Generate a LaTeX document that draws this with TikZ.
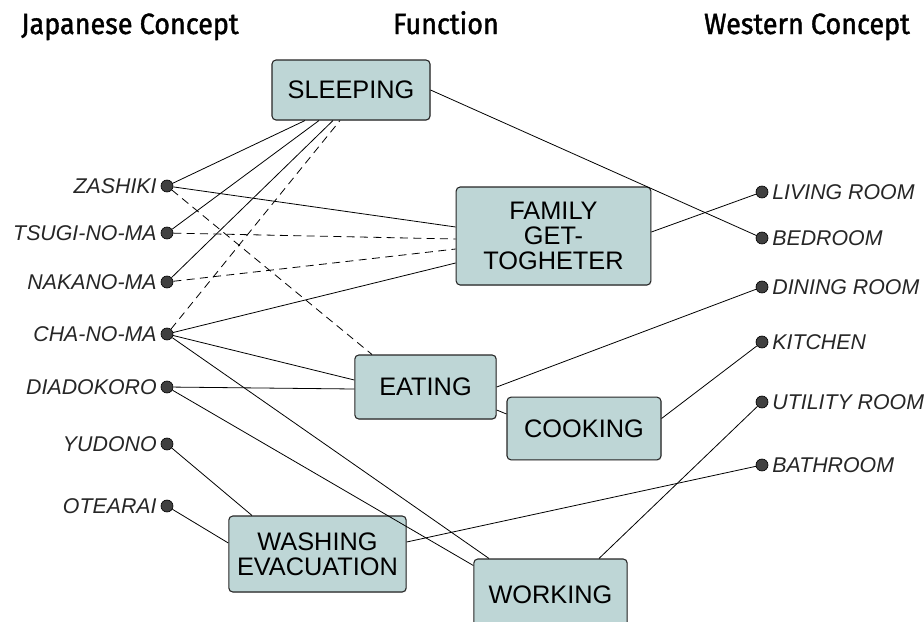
\documentclass[tikz,border=0pt]{standalone}
\usepackage{fontspec}
\setmainfont{Liberation Sans}
\newfontfamily\headfont[FakeStretch=0.92, FakeBold=1.4]{Fira Sans}
\usepackage{tikz}
\usetikzlibrary{shapes, arrows}
\usetikzlibrary{positioning}
\usetikzlibrary{calc}
\usetikzlibrary{shadows}
\definecolor{boxfill}{RGB}{190,214,214}
\definecolor{dotgray}{RGB}{64,64,64}
\tikzstyle{func} = [rectangle, rounded corners=3pt, draw=black!85, fill=boxfill, line width=0.8pt, align=center, font=\fontsize{19}{19}\selectfont, drop shadow={opacity=0.2, shadow xshift=0.6pt, shadow yshift=-0.6pt}]
\tikzstyle{room} = [circle, minimum size = 9pt, inner sep=0pt, fill=dotgray, draw=black, line width=0.5pt]
\tikzstyle{roomlabel} = [font=\fontsize{16}{18}\selectfont\itshape, text=black!85, label distance=-0.5pt]
\tikzstyle{heading} = [font=\headfont\fontsize{22}{24}\selectfont, anchor=base]
\tikzstyle{link} = [line width=0.6pt, -]
\tikzstyle{maybe} = [line width=0.6pt, dash pattern=on 6pt off 4pt]

\begin{document}
\begin{tikzpicture}[x=0.75pt, y=-0.75pt]
                                \useasboundingbox (0,0) rectangle (924,621);
                                \clip (0,0) rectangle (924,621);
                                % headings
                                \node (hjap) [heading] at (130,34) {Japanese Concept};
                                \node (hfun) [heading] at (446,34) {Function};
                                \node (hwes) [heading] at (807,34) {Western Concept};
                                % japanese rooms
                                \node (zashiki) [room, label={[roomlabel]left:ZASHIKI}] at (167,186) {};
                                \node (tsugi) [room, label={[roomlabel]left:TSUGI-NO-MA}] at (167,233) {};
                                \node (nakano) [room, label={[roomlabel]left:NAKANO-MA}] at (167,282) {};
                                \node (chanoma) [room, label={[roomlabel]left:CHA-NO-MA}] at (167,334) {};
                                \node (diadokoro) [room, label={[roomlabel]left:DIADOKORO}] at (167,387) {};
                                \node (yudono) [room, label={[roomlabel]left:YUDONO}] at (167,444) {};
                                \node (otearai) [room, label={[roomlabel]left:OTEARAI}] at (167,506) {};
                                % western rooms
                                \node (living) [room, label={[roomlabel]right:LIVING ROOM}] at (762,192) {};
                                \node (bedroom) [room, label={[roomlabel]right:BEDROOM}] at (762,238) {};
                                \node (dining) [room, label={[roomlabel]right:DINING ROOM}] at (762,287) {};
                                \node (kitchen) [room, label={[roomlabel]right:KITCHEN}] at (762,342) {};
                                \node (utility) [room, label={[roomlabel]right:UTILITY ROOM}] at (762,402) {};
                                \node (bathroom) [room, label={[roomlabel]right:BATHROOM}] at (762,465) {};
                                % functions
                                \node (sleep) [func, minimum width=118.5pt, minimum height=45pt] at (351,90) {SLEEPING};
                                \node (family) [func, minimum width=146pt, minimum height=73.5pt] at (553.5,236) {FAMILY\\GET-\\TOGHETER};
                                \node (eat) [func, minimum width=106pt, minimum height=48pt] at (425.5,387) {EATING};
                                \node (cook) [func, minimum width=115.5pt, minimum height=47pt] at (584,428.5) {COOKING};
                                \node (wash) [func, minimum width=133pt, minimum height=57pt] at (317.5,554) {WASHING\\EVACUATION};
                                \node (work) [func, minimum width=115pt, minimum height=54pt] at (550.5,595) {WORKING};
                                % sleeping
                                \draw [link] (zashiki) -- ($(sleep.south)+(-46,0)$);
                                \draw [link] (tsugi) -- ($(sleep.south)+(-32,0)$);
                                \draw [link] (nakano) -- ($(sleep.south)+(-18,0)$);
                                \draw [maybe] (chanoma) -- ($(sleep.south)+(-11,0)$);
                                \draw [link] (sleep.east) -- (bedroom);
                                % family
                                \draw [link] (zashiki) -- ($(family.west)+(0,-9)$);
                                \draw [maybe] (tsugi) -- ($(family.west)+(0,3)$);
                                \draw [maybe] (nakano) -- ($(family.west)+(0,13)$);
                                \draw [link] (chanoma) -- ($(family.west)+(0,27)$);
                                \draw [link] ($(family.east)+(0,-4)$) -- (living);
                                % eating
                                \draw [maybe] (zashiki) -- ($(eat.north)+(-53.5,0)$);
                                \draw [link] (chanoma) -- ($(eat.west)+(0,-7)$);
                                \draw [link] (diadokoro) -- ($(eat.west)+(0,2)$);
                                \draw [link] (eat.east) -- (dining);
                                \draw [link] ($(eat.east)+(0,23)$) -- ($(cook.west)+(0,-14.5)$);
                                % cooking
                                \draw [link] ($(cook.east)+(0,-10)$) -- (kitchen);
                                % washing
                                \draw [link] (yudono) -- ($(wash.north)+(-65.5,0)$);
                                \draw [link] (otearai) -- ($(wash.west)+(0,-11)$);
                                \draw [link] ($(wash.east)+(0,-12)$) -- (bathroom);
                                % working
                                \draw [link] (chanoma) -- ($(work.north)+(-61.5,0)$);
                                \draw [link] (diadokoro) -- ($(work.north west)+(0,7)$);
                                \draw [link] ($(work.north)+(48.5,0)$) -- (utility);
                            \end{tikzpicture}
\end{document}
